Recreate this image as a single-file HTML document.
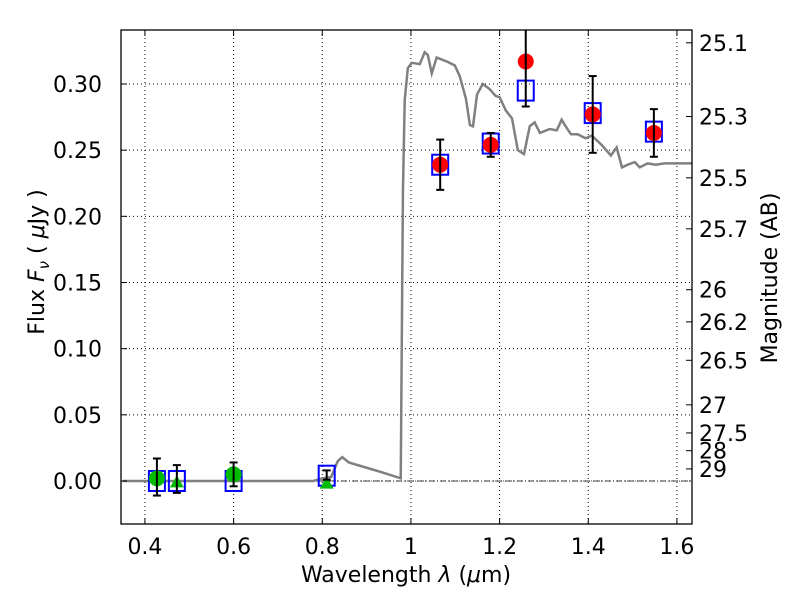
<!DOCTYPE html>
<html><head><meta charset="utf-8"><style>
body{margin:0;background:#fff;}
text{font-family:"DejaVu Sans","Liberation Sans",sans-serif;}
</style></head><body>
<svg id="chart" width="800" height="600" viewBox="0 0 800 600">
<defs><clipPath id="pc"><rect x="121" y="30" width="571" height="494"/></clipPath></defs>
<rect width="800" height="600" fill="#fff"/>
<g id="grid"></g><g id="series" clip-path="url(#pc)"></g><g id="axes"></g>
</svg>
<script>
const xTicks=[0.4,0.6,0.8,1,1.2,1.4,1.6];
const xTickLabels=["0.4","0.6","0.8","1","1.2","1.4","1.6"];
const yTicks=[0,0.05,0.10,0.15,0.20,0.25,0.30];
const yTickLabels=["0.00","0.05","0.10","0.15","0.20","0.25","0.30"];
const magTicks=[25.1,25.3,25.5,25.7,26,26.2,26.5,27,27.5,28,29];
const magLabels=["25.1","25.3","25.5","25.7","26","26.2","26.5","27","27.5","28","29"];
const sedLam=[0.35,0.78,0.80,0.82,0.835,0.845,0.86,0.90,0.94,0.977,0.982,0.986,0.993,1.002,1.020,1.031,1.038,1.047,1.058,1.081,1.099,1.110,1.124,1.133,1.140,1.149,1.162,1.178,1.191,1.200,1.214,1.228,1.241,1.255,1.268,1.279,1.291,1.313,1.329,1.340,1.349,1.361,1.376,1.394,1.408,1.430,1.451,1.464,1.476,1.489,1.505,1.516,1.534,1.552,1.572,1.606,1.633];
const sedFlux=[0,0,0.002,0.003,0.015,0.018,0.014,0.010,0.006,0.002,0.220,0.288,0.312,0.316,0.315,0.324,0.322,0.308,0.320,0.317,0.314,0.306,0.289,0.269,0.268,0.292,0.300,0.296,0.291,0.290,0.280,0.274,0.250,0.247,0.268,0.271,0.263,0.266,0.265,0.273,0.268,0.262,0.262,0.259,0.261,0.254,0.246,0.252,0.237,0.239,0.241,0.237,0.240,0.239,0.240,0.240,0.240];
const redLam=[1.066,1.18,1.259,1.41,1.548];
const redFlux=[0.239,0.254,0.317,0.277,0.263];
const redErr=[0.019,0.009,0.034,0.029,0.018];
const sqLam=[0.427,0.472,0.6,0.81,1.066,1.18,1.259,1.41,1.548];
const sqFlux=[0,0,0,0.004,0.239,0.255,0.295,0.278,0.264];
const grnLam=[0.427,0.472,0.6,0.81];
const grnFlux=[0.002,-0.001,0.005,-0.002];
const grnShape=["circle","triangle","circle","triangle"];
const grnErrHi=[0.017,0.012,0.014,0.008];
const grnErrLo=[-0.011,-0.009,-0.004,0.001];

const L=121,R=692,T=30,B=524,xmin=0.346,xmax=1.634,ymin=-0.0325,ymax=0.3408;
const X=v=>L+(v-xmin)/(xmax-xmin)*(R-L);
const Y=v=>B-(v-ymin)/(ymax-ymin)*(B-T);
const NS="http://www.w3.org/2000/svg";
function mk(tag,attrs,parent){const e=document.createElementNS(NS,tag);for(const k in attrs)e.setAttribute(k,attrs[k]);parent.appendChild(e);return e;}
const grid=document.getElementById('grid'),ser=document.getElementById('series'),ax=document.getElementById('axes');
const FS=22;
xTicks.forEach((t,i)=>{
 const g=mk('line',{x1:X(t),x2:X(t),y1:T,y2:B,stroke:'#000','stroke-width':1,'stroke-dasharray':'1,3'},grid);
 
 mk('line',{x1:X(t),x2:X(t),y1:B,y2:B-6,stroke:'#000'},ax);
 mk('line',{x1:X(t),x2:X(t),y1:T,y2:T+6,stroke:'#000'},ax);
 const tx=mk('text',{x:X(t),y:B+30,'text-anchor':'middle','font-size':FS},ax);tx.textContent=xTickLabels[i];
 
});
yTicks.forEach((t,i)=>{
 const g=mk('line',{x1:L,x2:R,y1:Y(t),y2:Y(t),stroke:'#000','stroke-width':1,'stroke-dasharray':'1,3'},grid);
 
 mk('line',{x1:L,x2:L+6,y1:Y(t),y2:Y(t),stroke:'#000'},ax);
 const tx=mk('text',{x:L-19,y:Y(t)+8,'text-anchor':'end','font-size':FS},ax);tx.textContent=yTickLabels[i];
 
});
magTicks.forEach((m,i)=>{
 const f=Math.pow(10,-0.4*(m-23.9));
 mk('line',{x1:R,x2:R-6,y1:Y(f),y2:Y(f),stroke:'#000'},ax);
 const tx=mk('text',{x:R+7,y:Y(f)+8,'font-size':FS},ax);tx.textContent=magLabels[i];
 
});
const z=mk('line',{x1:L,x2:R,y1:Y(0),y2:Y(0),stroke:'#000','stroke-width':0.8,'stroke-dasharray':'6,2,1,2'},ser);

const sed=mk('polyline',{points:sedLam.map((l,i)=>X(l)+','+Y(sedFlux[i])).join(' '),fill:'none',stroke:'#808080','stroke-width':2.5},ser);

function errbar(x,lo,hi){mk('line',{x1:x,x2:x,y1:Y(lo),y2:Y(hi),stroke:'#000','stroke-width':2},ser);
 mk('line',{x1:x-4,x2:x+4,y1:Y(lo),y2:Y(lo),stroke:'#000','stroke-width':2},ser);
 mk('line',{x1:x-4,x2:x+4,y1:Y(hi),y2:Y(hi),stroke:'#000','stroke-width':2},ser);}
sqLam.forEach((l,i)=>{const s=mk('rect',{x:X(l)-8,y:Y(sqFlux[i])-10,width:16,height:20,fill:'none',stroke:'#0000ff','stroke-width':2},ser);
 });
grnLam.forEach((l,i)=>{let e;
 if(grnShape[i]=="circle"){e=mk('circle',{cx:X(l),cy:Y(grnFlux[i]),r:8,fill:'#00bb00'},ser);}
 else{const x=X(l),y=Y(grnFlux[i]);e=mk('polygon',{points:`${x-7},${y+5} ${x+7},${y+5} ${x},${y-7}`,fill:'#00bb00'},ser);}
 
 errbar(X(l),grnErrLo[i],grnErrHi[i]);});
redLam.forEach((l,i)=>{const c=mk('circle',{cx:X(l),cy:Y(redFlux[i]),r:8,fill:'#ff0000'},ser);
 
 errbar(X(l),redFlux[i]-redErr[i],redFlux[i]+redErr[i]);});
const fr=mk('rect',{x:L,y:T,width:R-L,height:B-T,fill:'none',stroke:'#000','stroke-width':1.3},ax);

const xl=mk('text',{x:406,y:582,'text-anchor':'middle','font-size':22},ax);
xl.innerHTML='Wavelength  <tspan font-style="italic">λ</tspan> (<tspan font-style="italic">μ</tspan>m)';

const yl=mk('text',{transform:'translate(44,262) rotate(-90)','text-anchor':'middle','font-size':22},ax);
yl.innerHTML='Flux  <tspan font-style="italic">F</tspan><tspan font-style="italic" font-size="15" dy="5">ν</tspan><tspan dy="-5">  ( </tspan><tspan font-style="italic">μ</tspan>Jy )';

const rl=mk('text',{transform:'translate(777,278) rotate(-90)','text-anchor':'middle','font-size':22},ax);
rl.textContent='Magnitude (AB)';

</script>
</body></html>
